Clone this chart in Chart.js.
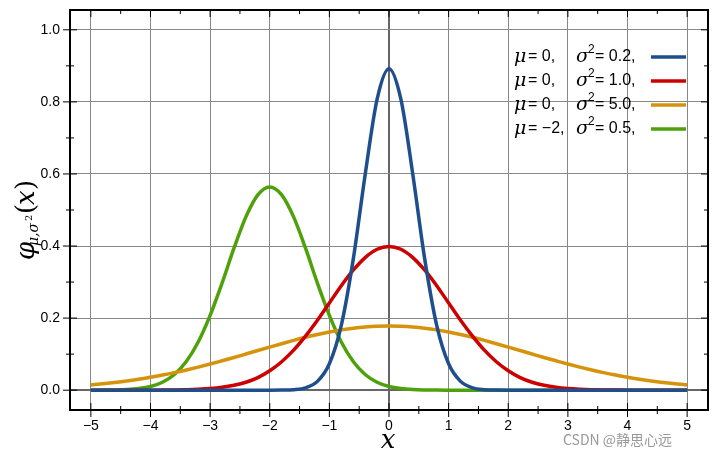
<!DOCTYPE html>
<html><head><meta charset="utf-8">
<script src="https://cdn.jsdelivr.net/npm/chart.js@4/dist/chart.umd.min.js"></script>
<style>html,body{margin:0;padding:0;background:#fff}#w{position:relative;width:720px;height:460px}</style>
</head><body><div id="w"><canvas id="c" width="720" height="460"></canvas></div>
<script>
const xs=[-5,-4.8,-4.6,-4.4,-4.2,-4,-3.8,-3.6,-3.4,-3.2,-3,-2.8,-2.6,-2.4,-2.2,-2,-1.8,-1.6,-1.4,-1.2,-1,-0.8,-0.6,-0.4,-0.2,0,0.2,0.4,0.6,0.8,1,1.2,1.4,1.6,1.8,2,2.2,2.4,2.6,2.8,3,3.2,3.4,3.6,3.8,4,4.2,4.4,4.6,4.8,5];
const blue=[0,0,0,0,0,0,0,0,0,0,0,0,0,0,0,0,0.0003,0.0015,0.0066,0.0244,0.0732,0.180,0.363,0.598,0.807,0.892,0.807,0.598,0.363,0.180,0.0732,0.0244,0.0066,0.0015,0.0003,0,0,0,0,0,0,0,0,0,0,0,0,0,0,0,0];
const red=[0,0,0,0,0,0.0001,0.0003,0.0006,0.0012,0.0024,0.0044,0.0079,0.0136,0.022,0.035,0.054,0.079,0.111,0.150,0.194,0.242,0.290,0.333,0.368,0.391,0.399,0.391,0.368,0.333,0.290,0.242,0.194,0.150,0.111,0.079,0.054,0.035,0.022,0.0136,0.0079,0.0044,0.0024,0.0012,0.0006,0.0003,0.0001,0,0,0,0,0];
const orange=[0.0146,0.0178,0.0215,0.0257,0.0306,0.0360,0.0421,0.0488,0.0562,0.0641,0.0725,0.0815,0.0907,0.1003,0.1100,0.1196,0.1290,0.1381,0.1467,0.1545,0.1614,0.1673,0.1721,0.1756,0.1777,0.1784,0.1777,0.1756,0.1721,0.1673,0.1614,0.1545,0.1467,0.1381,0.1290,0.1196,0.1100,0.1003,0.0907,0.0815,0.0725,0.0641,0.0562,0.0488,0.0421,0.0360,0.0306,0.0257,0.0215,0.0178,0.0146];
const green=[0.0001,0.0002,0.0007,0.0018,0.0045,0.0103,0.0221,0.0436,0.0795,0.1337,0.2076,0.297,0.394,0.481,0.542,0.564,0.542,0.481,0.394,0.297,0.2076,0.1337,0.0795,0.0436,0.0221,0.0103,0.0045,0.0018,0.0007,0.0002,0.0001,0,0,0,0,0,0,0,0,0,0,0,0,0,0,0,0,0,0,0,0];
const xTicks=[-5,-4,-3,-2,-1,0,1,2,3,4,5];
const yTicks=[0,0.2,0.4,0.6,0.8,1.0];
const mus=['0','0','0','−2'];
const sig2=['0.2','1.0','5.0','0.5'];
const colors=['#1f4e8c','#cc0000','#d4930a','#4ea10a'];
const series=[blue,red,orange,green];

const pts=a=>a.map((v,i)=>({x:xs[i],y:v}));
const extras={id:'extras',
 beforeDatasetsDraw(ch){const {ctx,chartArea:a,scales:{x,y}}=ch;ctx.save();
  ctx.strokeStyle='#000';ctx.lineWidth=1;
  for(let v=-5;v<=5.001;v+=0.5){const px=x.getPixelForValue(v);const l=Math.abs(v-Math.round(v))<1e-6?7:4;
   ctx.beginPath();ctx.moveTo(px,a.bottom-l);ctx.lineTo(px,a.bottom+l);ctx.stroke();
   ctx.beginPath();ctx.moveTo(px,a.top);ctx.lineTo(px,a.top+l);ctx.stroke();}
  for(let v=0;v<=1.001;v+=0.1){const py=y.getPixelForValue(v);const l=Math.round(v*10)%2==0?7:4;
   ctx.beginPath();ctx.moveTo(a.left-l,py);ctx.lineTo(a.left+l,py);ctx.stroke();
   ctx.beginPath();ctx.moveTo(a.right-l,py);ctx.lineTo(a.right,py);ctx.stroke();}
  ctx.restore();},
 afterDraw(ch){const {ctx,chartArea:a}=ch;ctx.save();
  ctx.strokeStyle='#000';ctx.lineWidth=2;ctx.strokeRect(a.left,a.top,a.right-a.left,a.bottom-a.top);
  ctx.fillStyle='#000';ctx.textBaseline='middle';
  for(let i=0;i<4;i++){const yy=57+i*24;let xx=514;
   ctx.font='italic 19px "DejaVu Serif"';ctx.textAlign='left';ctx.fillText('μ',xx,yy);
   ctx.font='16px "Liberation Sans"';ctx.fillText('= '+mus[i]+',',xx+14,yy);
   xx=576;ctx.font='italic 19px "DejaVu Serif"';ctx.fillText('σ',xx,yy);
   ctx.font='12px "Liberation Sans"';ctx.fillText('2',xx+12,yy-7);
   ctx.font='16px "Liberation Sans"';ctx.fillText('= '+sig2[i]+',',xx+19,yy);
   ctx.strokeStyle=colors[i];ctx.lineWidth=3.5;ctx.beginPath();ctx.moveTo(651,yy);ctx.lineTo(686,yy);ctx.stroke();}
  ctx.font='italic 26px "DejaVu Serif"';ctx.textAlign='center';ctx.fillText('x',388,441);
  ctx.translate(27,215);ctx.rotate(-Math.PI/2);
  ctx.font='italic 26px "DejaVu Serif"';ctx.textAlign='left';
  ctx.fillText('φ',-45,0);ctx.font='italic 14px "DejaVu Serif"';ctx.fillText('μ,σ',-31,7);
  ctx.font='10px "DejaVu Serif"';ctx.fillText('2',-6,2);
  ctx.font='26px "DejaVu Serif"';ctx.fillText('(',1,0);ctx.font='italic 26px "DejaVu Serif"';ctx.fillText('x',10,0);ctx.font='26px "DejaVu Serif"';ctx.fillText(')',25,0);
  ctx.restore();
  ctx.save();ctx.font='14px "Noto Sans CJK SC"';ctx.fillStyle='#999';ctx.textAlign='left';ctx.textBaseline='middle';ctx.fillText('CSDN @静思心远',563,440);ctx.restore();}
};
new Chart(document.getElementById('c'),{type:'line',
 data:{datasets:series.map((s,i)=>({data:pts(s),borderColor:colors[i],borderWidth:3.5,pointRadius:0,cubicInterpolationMode:'monotone',fill:false}))},
 options:{responsive:false,animation:false,layout:{padding:{top:10,right:12,left:0,bottom:0}},
  plugins:{legend:{display:false},tooltip:{enabled:false}},
  scales:{
   x:{type:'linear',min:-5.35,max:5.35,afterBuildTicks:s=>{s.ticks=xTicks.map(v=>({value:v}))},afterFit:s=>{s.height=50},
    grid:{color:c=>c.tick&&c.tick.value===0?'#666':'#888',lineWidth:c=>c.tick&&c.tick.value===0?2:1,drawTicks:false},border:{display:false},
    ticks:{color:'#000',font:{size:14,family:'Liberation Sans'},padding:8,callback:v=>v<0?'−'+(-v):''+v,maxRotation:0}},
   y:{min:-0.055,max:1.055,afterBuildTicks:s=>{s.ticks=yTicks.map(v=>({value:v}))},afterFit:s=>{s.width=70;s.paddingTop=0;s.paddingBottom=0},
    grid:{color:c=>c.tick&&c.tick.value===0?'#666':'#888',lineWidth:c=>c.tick&&c.tick.value===0?2:1,drawTicks:false},border:{display:false},
    ticks:{color:'#000',font:{size:14,family:'Liberation Sans',lineHeight:0.1},padding:10,callback:v=>v.toFixed(1)}}}},
 plugins:[extras]});
</script></body></html>
